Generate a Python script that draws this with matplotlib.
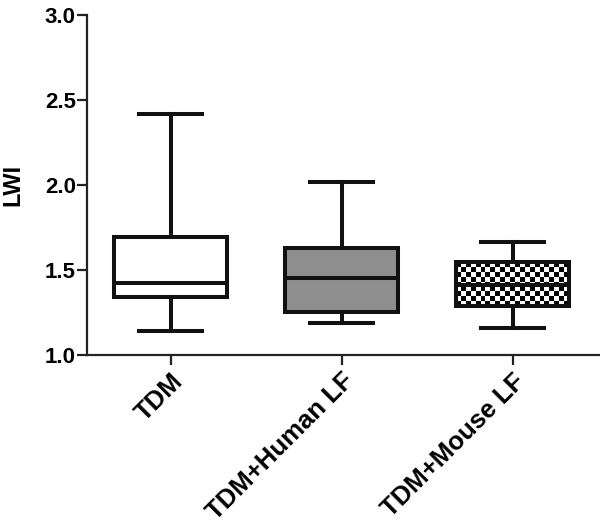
import numpy as np
import matplotlib
matplotlib.use("Agg")
import matplotlib.pyplot as plt

categories = ["TDM", "TDM+Human LF", "TDM+Mouse LF"]
whislo = [1.14, 1.19, 1.16]
q1 = [1.34, 1.253, 1.29]
med = [1.424, 1.453, 1.41]
q3 = [1.694, 1.63, 1.547]
whishi = [2.42, 2.02, 1.665]
yticks = [1.0, 1.5, 2.0, 2.5, 3.0]

plt.rcParams['font.family'] = ['Liberation Sans', 'DejaVu Sans']
plt.rcParams['font.weight'] = 'bold'

fig = plt.figure(figsize=(6.0, 5.26), dpi=100)
ax = fig.add_axes([0.145, 0.325, 0.855, 0.6465])

stats = []
for i, c in enumerate(categories):
    stats.append(dict(label=c, whislo=whislo[i], q1=q1[i], med=med[i],
                      q3=q3[i], whishi=whishi[i], fliers=[]))

lw = 2.9
bp = ax.bxp(stats, positions=range(len(categories)), widths=0.66,
            patch_artist=True, showfliers=False,
            boxprops=dict(linewidth=lw, edgecolor='#111111'),
            medianprops=dict(linewidth=lw, color='#111111'),
            whiskerprops=dict(linewidth=lw, color='#111111'),
            capprops=dict(linewidth=lw, color='#111111'),
            capwidths=0.37)
fills = ['white', '#8e8e8e', 'white']
for b, f in zip(bp['boxes'], fills):
    b.set_facecolor(f)

# checkerboard fill for the third box
i = 2
x0, x1 = 2 - 0.33, 2 + 0.33
y0, y1 = q1[i], q3[i]
nx, ny = 23, 9
checker = (np.add.outer(np.arange(ny), np.arange(nx)) % 2).astype(float)
im = ax.imshow(checker, cmap='gray', extent=[x0, x1, y0, y1], aspect='auto',
               interpolation='nearest', zorder=1.5, vmin=0, vmax=1)
im.set_clip_path(bp['boxes'][i])
bp['boxes'][i].set_facecolor('none')
bp['boxes'][i].set_zorder(3)
bp['medians'][i].set_zorder(3.5)

ax.set_xlim(-0.49, 2.51)
ax.set_ylim(1.0, 3.0)
ax.set_yticks(yticks)
ax.set_yticklabels([f"{v:.1f}" for v in yticks], fontsize=16)
ax.set_xticks(range(len(categories)))
ax.set_xticklabels(categories, rotation=45, ha='right', rotation_mode='anchor',
                   fontsize=18.5)

for s in ['top', 'right']:
    ax.spines[s].set_visible(False)
for s in ['left', 'bottom']:
    ax.spines[s].set_linewidth(1.6)
    ax.spines[s].set_color('#222222')
ax.tick_params(axis='both', width=1.6, length=7, color='#222222', pad=2)
ax.tick_params(axis='y', pad=1)
ax.tick_params(axis='x', pad=3)

ax.set_ylabel("LWI", fontsize=17, fontweight='bold')
ax.yaxis.set_label_coords(-0.145, 0.5, transform=None)
ax.yaxis.label.set_transform(fig.transFigure)
ax.yaxis.label.set_position((13 / 600, 1 - 185 / 526))
ax.yaxis.label.set_va('center')
ax.yaxis.label.set_ha('center')

fig.savefig("out.png", dpi=100)
